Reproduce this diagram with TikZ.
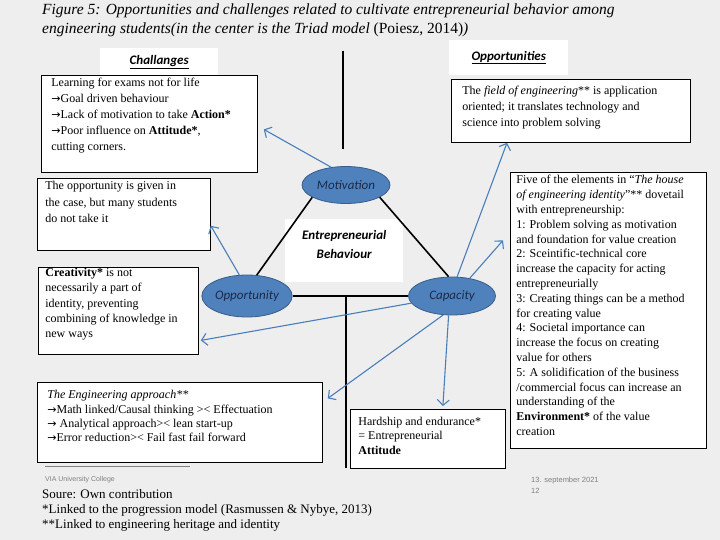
\documentclass[tikz,border=0pt]{standalone}
\usepackage{fontspec}
\setmainfont{Liberation Serif}
\setsansfont{Carlito}
\newfontfamily\uisans{Liberation Sans}
\newfontfamily\arrowfont{DejaVu Sans}
\usetikzlibrary{calc,shapes.geometric,arrows.meta}

\definecolor{pagegray}{HTML}{EEEEEE}
\definecolor{triadblue}{HTML}{4F81BD}
\definecolor{triadedge}{HTML}{385D8A}
\definecolor{poletext}{HTML}{1C2A48}
\definecolor{linkblue}{HTML}{4A7EBB}
\definecolor{footgray}{HTML}{808080}

\newcommand{\rarr}{{\arrowfont\fontsize{11}{12}\selectfont →}}
\newcommand{\notetxt}[4]{\parbox[c][#2][t]{#1}{\fontsize{12}{#3}\selectfont\raggedright #4}}

\begin{document}
\begin{tikzpicture}[x=1pt,y=-1pt,
  note/.style={draw,fill=white,anchor=north west,inner sep=0pt,inner ysep=3pt,line width=0.8pt},
  pole/.style={ellipse,draw=triadedge,fill=triadblue,line width=0.8pt,inner sep=0pt,
    font=\sffamily\itshape\fontsize{13}{15}\selectfont,text=poletext},
  headtag/.style={fill=white,anchor=north west,inner sep=0pt,
    font=\sffamily\bfseries\itshape\fontsize{13}{15}\selectfont},
  link/.style={draw=linkblue,line width=1.1pt,-{Straight Barb[length=5.5pt,width=12pt]}},
  side/.style={line width=1.6pt},
  foot/.style={anchor=base west,inner sep=0pt,font=\fontsize{13}{15}\selectfont}]

\fill[pagegray] (0,0) rectangle (720,540);
\useasboundingbox (0,0) rectangle (720,540);

% title
\node[anchor=base west,inner sep=0pt,font=\itshape\fontsize{15.5}{18}\selectfont] (title1) at (42,15)
  {Figure 5: Opportunities and challenges related to cultivate entrepreneurial behavior among};
\node[anchor=base west,inner sep=0pt,font=\itshape\fontsize{15.5}{18}\selectfont] (title2) at (42,34)
  {engineering students(in the center is the Triad model \textup{(Poiesz, 2014)})};

% headings
\node[headtag,minimum width=118pt,minimum height=27pt] (challab) at (100,48) {\underline{Challanges}};
\node[headtag,minimum width=119pt,minimum height=35pt] (opplab) at (449,40) {\underline{Opportunities}};

% challenges
\node[note,inner xsep=10pt] (chal) at (41,75) {\notetxt{196pt}{91pt}{15.8pt}{%
  Learning for exams not for life\\
  \rarr Goal driven behaviour\\
  \rarr Lack of motivation to take \textbf{Action*}\\
  \rarr Poor influence on \textbf{Attitude*},\\
  cutting corners.}};
\node[note,inner xsep=8pt] (oppbox) at (37,178) {\notetxt{157pt}{66pt}{16.3pt}{%
  The opportunity is given in\\
  the case, but many students\\
  do not take it}};
\node[note,inner xsep=7pt,inner ysep=1pt] (crea) at (38,267) {\notetxt{146pt}{85pt}{15.2pt}{%
  \textbf{Creativity*} is not\\
  necessarily a part of\\
  identity, preventing\\
  combining of knowledge in\\
  new ways}};
\node[note,inner xsep=10pt,inner ysep=8pt] (eng) at (37,382) {\notetxt{265pt}{64pt}{14.3pt}{%
  \textit{The Engineering approach**}\\
  \rarr Math linked/Causal thinking >< Effectuation\\
  \rarr{} Analytical approach>< lean start-up\\
  \rarr Error reduction>< Fail fast fail forward}};

% opportunities
\node[note,inner xsep=11pt,inner ysep=7pt] (opps) at (451,79) {\notetxt{217pt}{49pt}{16pt}{%
  The \textit{field of engineering}** is application\\
  oriented; it translates technology and\\
  science into problem solving}};
\node[note,inner xsep=6pt] (five) at (510,172) {\notetxt{184pt}{270pt}{14.8pt}{%
  Five of the elements in “\textit{The house}\\
  \textit{of engineering identity}”** dovetail\\
  with entrepreneurship:\\
  1: Problem solving as motivation\\
  and foundation for value creation\\
  2: Sceintific-technical core\\
  increase the capacity for acting\\
  entrepreneurially\\
  3: Creating things can be a method\\
  for creating value\\
  4: Societal importance can\\
  increase the focus on creating\\
  value for others\\
  5: A solidification of the business\\
  /commercial focus can increase an\\
  understanding of the\\
  \textbf{Environment*} of the value\\
  creation}};
\node[note,inner xsep=8pt,inner ysep=7.5pt] (hard) at (350,409) {\notetxt{139pt}{44pt}{14.7pt}{%
  Hardship and endurance*\\
  = Entrepreneurial\\
  \textbf{Attitude}}};

% triad
\node[fill=white,anchor=north west,minimum width=118pt,minimum height=63pt] (eb) at (285,219) {};
\node[align=center,font=\sffamily\bfseries\itshape\fontsize{13}{19}\selectfont] (ebtext)
  at ($(eb)+(0,-6)$) {Entrepreneurial\\Behaviour};
\node[pole,minimum width=88pt,minimum height=37pt] (mot) at (346,185) {Motivation};
\node[pole,minimum width=87pt,minimum height=42pt] (opp) at (247,296) {Opportunity};
\node[pole,minimum width=87pt,minimum height=38pt] (cap) at (452,296) {Capacity};

\draw[side] (mot.200) -- (opp.65);
\draw[side] (mot.-20) -- (cap.100);
\draw[side] (opp.east) -- (cap.west);
\coordinate (axistop) at (343,51);
\draw[line width=2.2pt] (axistop) -- ++(0,98);
\draw[line width=2.2pt] ($(opp.east)!.46!(cap.west)$) -- ++(0,172);

% links
\draw[link] (mot.130) -- ($(chal.east)+(6,5.5)$);
\draw[link] (opp.110) -- ($(oppbox.south east)+(0,-25)$);
\draw[link] (cap.190) -- ($(crea.east)+(2,29.5)$);
\draw[link] (cap.75) -- ($(opps.south west)+(56,0)$);
\draw[link] (cap.45) -- ($(five.west)+(-7,-70)$);
\draw[link] (cap.260) -- ($(hard.north)+(15,-3)$);
\draw[link] (cap.245) -- ($(eng.east)+(5,-24)$);

% footer
\draw[footgray,line width=0.6pt] (45,466) -- (190,466);
\node[anchor=base west,inner sep=0pt,font=\uisans\fontsize{7}{8}\selectfont,text=footgray] (via) at (45,481) {VIA University College};
\node[foot] (src) at (42,498) {Soure: Own contribution};
\node[foot] (star1) at (42,513) {*Linked to the progression model (Rasmussen \& Nybye, 2013)};
\node[foot] (star2) at (42,528) {**Linked to engineering heritage and identity};
\node[anchor=base west,inner sep=0pt,font=\uisans\fontsize{7.5}{8}\selectfont,text=footgray] (date) at (531,482) {13. september 2021};
\node[anchor=base west,inner sep=0pt,font=\uisans\fontsize{7.5}{8}\selectfont,text=footgray] (pageno) at (531,493) {12};
\end{tikzpicture}
\end{document}
